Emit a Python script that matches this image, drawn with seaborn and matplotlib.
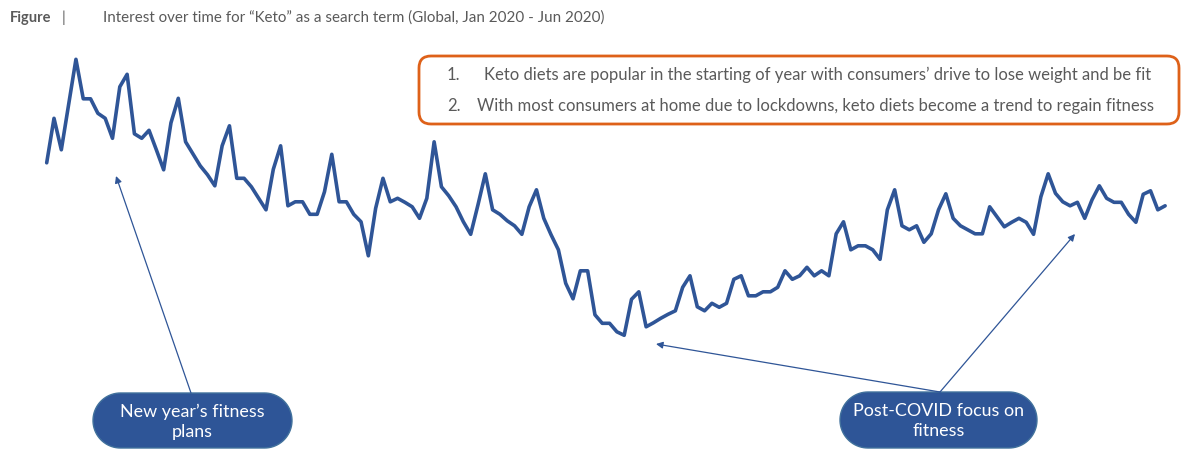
import numpy as np
import pandas as pd
import matplotlib
matplotlib.use("Agg")
import matplotlib.pyplot as plt
import seaborn as sns
from matplotlib.patches import FancyBboxPatch, Polygon

# ---- data (Google Trends style interest) ----
interest = [
    79.3, 88.2, 81.9, 90.9, 100.0, 92.1, 92.1, 89.2, 88.2, 84.2,
    94.5, 97.0, 85.1, 84.2, 85.8, 81.9, 77.9, 87.3, 92.2, 83.5,
    81.1, 78.7, 76.9, 74.7, 82.7, 86.7, 76.2, 76.2, 74.5, 72.2,
    69.9, 78.0, 82.7, 70.7, 71.5, 71.5, 69.0, 69.0, 73.5, 81.0,
    71.5, 71.5, 69.0, 67.5, 60.7, 70.2, 76.2, 71.5, 72.2, 71.4,
    70.5, 68.2, 72.2, 83.5, 74.5, 72.7, 70.5, 67.5, 65.0, 70.9,
    77.1, 69.9, 69.0, 67.7, 66.7, 65.0, 70.5, 73.9, 68.2, 64.9,
    61.9, 55.2, 52.1, 57.7, 57.7, 48.9, 47.2, 47.2, 45.5, 44.8,
    52.0, 53.5, 46.5, 47.3, 48.2, 49.0, 49.7, 54.4, 56.7, 50.5,
    49.7, 51.2, 50.4, 51.2, 56.0, 56.7, 52.7, 52.7, 53.5, 53.5,
    54.4, 57.7, 56.0, 56.7, 58.4, 56.7, 57.7, 56.7, 65.1, 67.5,
    61.9, 62.7, 62.7, 61.9, 60.0, 69.9, 73.9, 66.7, 65.9, 66.7,
    63.4, 65.1, 69.9, 73.1, 68.2, 66.7, 65.9, 65.1, 65.1, 70.5,
    68.5, 66.5, 67.4, 68.2, 67.4, 65.0, 72.5, 77.1, 73.2, 71.5,
    70.7, 71.4, 68.2, 71.9, 74.7, 72.2, 71.4, 71.4, 69.0, 67.4,
    73.0, 73.7, 69.9, 70.7,
]
period = list(range(len(interest)))

title_label = "Figure"
title_text = "Interest over time for \u201cKeto\u201d as a search term (Global, Jan 2020 - Jun 2020)"
notes = [
    "Keto diets are popular in the starting of year with consumers\u2019 drive to lose weight and be fit",
    "With most consumers at home due to lockdowns, keto diets become a trend to regain fitness",
]
callouts = ["New year\u2019s fitness\nplans", "Post-COVID focus on\nfitness"]

df = pd.DataFrame({"period": period, "interest": interest})

# ---- style ----
sns.set_theme(style="white")
plt.rcParams["font.family"] = ["Lato", "DejaVu Sans"]

W, H = 1201, 458
fig = plt.figure(figsize=(W / 100, H / 100), dpi=100)
fig.patch.set_facecolor("white")

LINE = "#2F5597"
ax = fig.add_axes([0, 0, 1, 1])
sns.lineplot(data=df, x="period", y="interest", ax=ax, color=LINE, linewidth=2.6)
step = 7.31
x0 = 46.7
ax.set_xlim(-x0 / step, (W - x0) / step)
ax.set_ylim(100 - (H - 59.3) / 5.0, 100 + 59.3 / 5.0)
ax.axis("off")

# ---- overlay in pixel coords ----
ov = fig.add_axes([0, 0, 1, 1])
ov.set_xlim(0, W)
ov.set_ylim(H, 0)
ov.axis("off")
ov.patch.set_alpha(0)

GRAY = "#5a5a5a"
ov.text(10, 18, title_label, fontsize=10.5, fontweight="bold", color=GRAY, va="center", ha="left")
ov.text(62, 18, "|", fontsize=10.5, color=GRAY, va="center", ha="left")
ov.text(103, 18, title_text, fontsize=10.9, color=GRAY, va="center", ha="left")

# orange note box
ov.add_patch(FancyBboxPatch((419, 56), 760, 68, boxstyle="round,pad=0,rounding_size=12",
                            facecolor="white", edgecolor="#DE6119", linewidth=2.0))
ov.text(447, 75, "1.", fontsize=12, color=GRAY, va="center", ha="left")
ov.text(484, 75, notes[0], fontsize=12, color=GRAY, va="center", ha="left")
ov.text(447, 106, "2.", fontsize=12, color=GRAY, va="center", ha="left")
ov.text(477, 106, notes[1], fontsize=12, color=GRAY, va="center", ha="left")


def pill(bx, by, bw, bh):
    r = bh / 2.0
    cy = by + r
    t1 = np.linspace(np.pi / 2, 3 * np.pi / 2, 40)
    t2 = np.linspace(-np.pi / 2, np.pi / 2, 40)
    left = np.column_stack([bx + r + r * np.cos(t1), cy - r * np.sin(t1)])
    right = np.column_stack([bx + bw - r + r * np.cos(t2), cy - r * np.sin(t2)])
    return np.vstack([left, right])


# callout pills
PILL = "#2E5597"
for (bx, by, bw, bh), txt in zip([(93, 393, 199, 55), (840, 392, 197, 56)], callouts):
    ov.add_patch(Polygon(pill(bx, by, bw, bh), closed=True, facecolor=PILL,
                         edgecolor="#41719C", linewidth=1.0))
    ov.text(bx + bw / 2, by + bh / 2 + 1, txt, fontsize=12.9, color="white", ha="center",
            va="center", linespacing=1.3)

# arrows
aprops = dict(arrowstyle="-|>", color=LINE, lw=0.9, mutation_scale=10, shrinkA=0, shrinkB=0)
ov.annotate("", xy=(116, 176), xytext=(191, 393), arrowprops=aprops)
ov.annotate("", xy=(656, 344), xytext=(940, 392), arrowprops=aprops)
ov.annotate("", xy=(1075, 234), xytext=(940, 392), arrowprops=aprops)

fig.savefig("out.png", dpi=100, facecolor="white")
